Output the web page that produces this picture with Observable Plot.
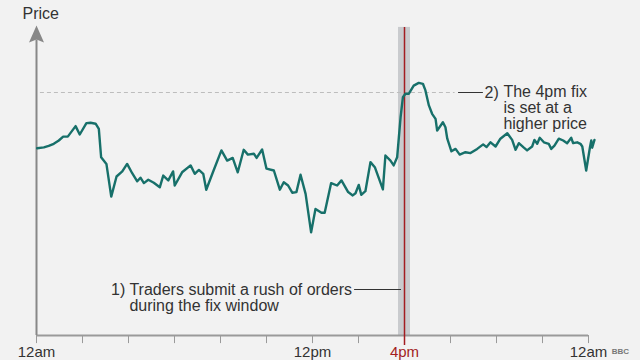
<!DOCTYPE html>
<html>
<head>
<meta charset="utf-8">
<script src="https://cdn.jsdelivr.net/npm/d3@7"></script>
<script src="https://cdn.jsdelivr.net/npm/@observablehq/plot@0.6"></script>
<style>
  html, body { margin: 0; padding: 0; background: #f2f2f2; }
  #chart svg { display: block; }
</style>
</head>
<body>
<div id="chart"></div>
<script>
// Time of day in hours (0 = 12am, 24 = next 12am)
const hours = [
  0.03, 0.32, 0.53, 0.75, 0.97, 1.16, 1.36, 1.70, 1.88, 2.17, 2.35, 2.57, 2.71, 2.81, 3.04, 3.25, 3.48, 3.73, 3.94,
  4.16, 4.38, 4.52, 4.67, 4.86, 5.10, 5.36, 5.51, 5.73, 5.94, 6.01, 6.33, 6.70, 6.88, 7.06, 7.25, 7.38, 7.67,
  8.04, 8.29, 8.53, 8.75, 9.01, 9.19, 9.45, 9.57, 9.81, 10.00, 10.32, 10.58, 10.75, 10.94, 11.12, 11.30, 11.48, 11.70,
  11.94, 12.13, 12.39, 12.53, 12.81, 13.07, 13.26, 13.55, 13.75, 13.87, 14.01, 14.12, 14.30, 14.52, 14.71, 15.06,
  15.17, 15.39, 15.53, 15.68, 15.83, 15.93, 16.04, 16.19, 16.40, 16.62, 16.80, 16.91, 17.06, 17.20, 17.35, 17.42,
  17.67, 17.78, 17.86, 18.04, 18.22, 18.40, 18.65, 18.87, 19.16, 19.42, 19.57, 19.74, 19.96, 20.17, 20.47, 20.68,
  20.83, 20.97, 21.19, 21.33, 21.55, 21.65, 21.77, 21.88, 22.06, 22.27, 22.38, 22.52, 22.71, 22.90, 23.07, 23.25,
  23.33, 23.51, 23.65, 23.73, 23.90, 24.06, 24.12, 24.16, 24.26
];
// Price (arbitrary index units)
const prices = [
  62.4, 62.7, 63.2, 63.9, 65.0, 66.3, 66.3, 69.8, 67.0, 70.8, 70.9, 70.6, 68.9, 59.4, 57.2, 46.3, 53.0, 54.7, 57.2,
  54.1, 51.4, 52.6, 50.8, 51.9, 50.9, 49.4, 53.3, 51.7, 54.7, 50.0, 54.4, 56.7, 53.9, 55.2, 53.9, 48.6, 54.4,
  61.7, 58.3, 59.2, 54.4, 61.9, 60.3, 60.6, 59.2, 62.0, 55.6, 55.0, 48.6, 51.1, 50.0, 47.6, 47.8, 53.6, 47.2,
  34.4, 42.2, 40.9, 40.9, 50.8, 50.0, 51.7, 47.8, 46.7, 47.4, 50.2, 46.9, 48.1, 57.8, 56.1, 48.7,
  60.0, 58.3, 56.7, 59.4, 72.8, 79.4, 80.6, 80.6, 83.3, 84.2, 83.9, 81.7, 76.7, 73.9, 72.2, 68.3,
  71.1, 69.4, 65.6, 61.4, 62.2, 60.3, 61.1, 60.8, 62.2, 63.7, 62.8, 64.4, 63.0, 65.6, 67.4, 65.2,
  61.9, 64.1, 62.6, 61.7, 63.0, 65.2, 63.9, 65.9, 64.4, 63.9, 62.2, 63.3, 65.6, 65.0, 64.1, 65.9,
  64.1, 64.4, 63.9, 63.0, 55.0, 62.6, 65.0, 62.6, 65.2
];
const tickHours = [0, 2, 4, 6, 8, 10, 12, 14, 16, 18, 20, 22, 24];
const labelHours = [0, 12, 16, 24];
const labelTexts = ["12am", "12pm", "4pm", "12am"];
const fixHour = 16;
const fixWindow = [15.74, 16.26];
const fixPrice = 81;

const data = hours.map((h, i) => ({h, p: prices[i]}));
const labels = labelHours.map((h, i) => ({h, t: labelTexts[i]}));

const arrowHead = {
  draw(ctx) {
    ctx.moveTo(0, 0);
    ctx.lineTo(7.5, 17);
    ctx.lineTo(0, 14);
    ctx.lineTo(-7.5, 17);
    ctx.closePath();
  }
};

const ink = "#333333";
const red = "#a31d22";
const teal = "#17706a";
const font = "'Liberation Sans', Arial, Helvetica, sans-serif";

const chart = Plot.plot({
  width: 640,
  height: 360,
  marginLeft: 36,
  marginRight: 52,
  marginTop: 35,
  marginBottom: 25,
  style: {background: "#f2f2f2", fontFamily: font, overflow: "visible"},
  x: {domain: [0, 24], axis: null},
  y: {domain: [0, 100], axis: null},
  marks: [
    // fix window band
    Plot.rect([fixWindow], {x1: d => d[0], x2: d => d[1], y1: 0, y2: 102.7, fill: "#c9cbce"}),
    // dashed fix-price guide
    Plot.ruleY([fixPrice], {x1: 0.17, x2: 18.2, stroke: "#bdbdbd", strokeWidth: 1, strokeDasharray: "4,3"}),
    // ticks
    Plot.ruleX(tickHours, {y1: 0, y2: -2.7, stroke: "#9a9a9a", strokeWidth: 1}),
    // x axis line
    Plot.ruleY([0], {x1: 0, x2: 24, stroke: "#9a9a9a", strokeWidth: 2}),
    // y axis line + arrow
    Plot.ruleX([0], {y1: 0, y2: 98.5, stroke: "#888", strokeWidth: 2}),
    Plot.dot([0], {x: () => 0, y: () => 103.3, symbol: arrowHead, fill: "#888", stroke: "none", r: 6}),
    // 4pm line
    Plot.ruleX([fixHour], {y1: -3.3, y2: 102.7, stroke: red, strokeWidth: 1.5}),
    // price line
    Plot.line(data, {x: "h", y: "p", stroke: teal, strokeWidth: 2.4, strokeLinejoin: "round"}),
    // annotation connectors
    Plot.ruleY([fixPrice], {x1: 18.35, x2: 19.43, stroke: ink, strokeWidth: 1}),
    Plot.ruleY([15.33], {x1: 13.83, x2: 15.87, stroke: ink, strokeWidth: 1}),
    // annotation texts
    Plot.text(["2)"], {x: () => 19.48, y: () => fixPrice, text: d => d, textAnchor: "start", fontSize: 16, fill: ink}),
    Plot.text(["The 4pm fix\nis set at a\nhigher price"], {x: () => 20.3, y: () => 75.8, text: d => d, textAnchor: "start", lineHeight: 0.98, fontSize: 16, fill: ink}),
    Plot.text(["1)"], {x: () => 3.24, y: () => 15.33, text: d => d, textAnchor: "start", fontSize: 16, fill: ink}),
    Plot.text(["Traders submit a rush of orders\nduring the fix window"], {x: () => 4.04, y: () => 12.67, text: d => d, textAnchor: "start", lineHeight: 1.0, fontSize: 16, fill: ink}),
    // axis labels
    Plot.text(labels, {x: "h", y: () => -5.67, text: "t", fontSize: 15, fill: d => d.h === fixHour ? red : ink}),
    Plot.text(["Price"], {x: () => -0.61, y: () => 107.3, text: d => d, textAnchor: "start", fontSize: 16, fill: ink}),
    Plot.text(["BBC"], {x: () => 25.39, y: () => -5.2, text: d => d, fontSize: 8, fontWeight: "bold", fill: "#777"})
  ]
});
document.getElementById("chart").appendChild(chart);
</script>
</body>
</html>
